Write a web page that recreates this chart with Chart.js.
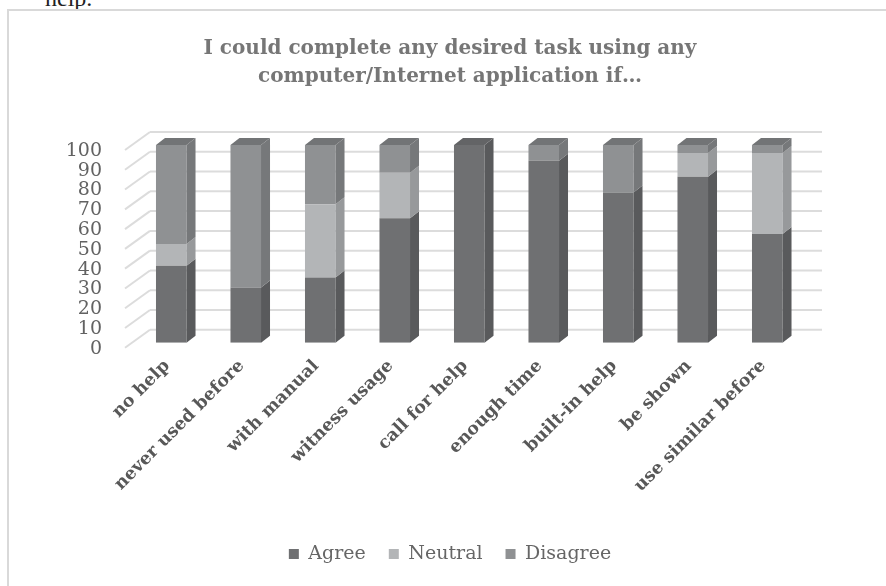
<!DOCTYPE html>
<html>
<head>
<meta charset="utf-8">
<script src="https://cdn.jsdelivr.net/npm/chart.js@4.4.1/dist/chart.umd.min.js"></script>
<style>
  html, body { margin: 0; padding: 0; background: #fff; width: 886px; height: 586px; overflow: hidden; }
  #lead { position: absolute; left: 45px; top: -14px; font: 24px/24px "Liberation Serif", serif; color: #222; }
  #frame { position: absolute; left: 7px; top: 9px; width: 900px; height: 600px; border: 2px solid #d9d9d9; }
  #wrap { position: absolute; left: 0; top: 0; width: 886px; height: 586px; }
</style>
</head>
<body>
<div id="lead">help.</div>
<div id="frame"></div>
<div id="wrap"><canvas id="c" width="886" height="586"></canvas></div>
<script>
// Survey answers (percent) per condition
const categories = ['no help', 'never used before', 'with manual', 'witness usage', 'call for help',
                    'enough time', 'built-in help', 'be shown', 'use similar before'];
const agree    = [39, 28, 33, 63, 100, 92, 76, 84, 55];
const neutral  = [11,  0, 37, 23,   0,  0,  0, 12, 41];
const disagree = [50, 72, 30, 14,   0,  8, 24,  4,  4];
const yTicks = [0, 10, 20, 30, 40, 50, 60, 70, 80, 90, 100];
const seriesNames = ['Agree', 'Neutral', 'Disagree'];
const titleLines = ['I could complete any desired task using any', 'computer/Internet application if\u2026'];

// Face shades: front, side, top
const shades = [
  { front: '#6f7072', side: '#595a5c', top: '#636466' },
  { front: '#b3b5b7', side: '#97999b', top: '#a5a7a9' },
  { front: '#8f9193', side: '#76787a', top: '#727476' }
];

const BAR_DX = 9, BAR_DY = 7;     // depth of each column
const WALL_DX = 16, WALL_DY = 13; // back wall offset

const depthPlugin = {
  id: 'depth3d',
  beforeDatasetsDraw(chart) {
    const { ctx, chartArea: a, scales: { y } } = chart;
    ctx.save();
    ctx.strokeStyle = '#dcdcdc';
    ctx.lineWidth = 2;
    yTicks.forEach(v => {
      const py = y.getPixelForValue(v);
      ctx.beginPath();
      ctx.moveTo(a.left + WALL_DX, py - WALL_DY);
      ctx.lineTo(a.right + 17.5, py - WALL_DY);
      ctx.stroke();
      ctx.beginPath();
      ctx.moveTo(a.left - 9, py + 5);
      ctx.lineTo(a.left + WALL_DX, py - WALL_DY);
      ctx.stroke();
    });
    ctx.restore();
  },
  afterDatasetsDraw(chart) {
    const { ctx } = chart;
    const n = chart.data.labels.length;
    ctx.save();
    for (let j = 0; j < n; j++) {
      let topIdx = -1;
      chart.data.datasets.forEach((ds, i) => {
        const v = ds.data[j];
        if (!v) return;
        topIdx = i;
        const bar = chart.getDatasetMeta(i).data[j];
        const { x, y, base, width } = bar.getProps(['x', 'y', 'base', 'width'], true);
        const r = x + width / 2;
        ctx.fillStyle = shades[i].side;
        ctx.beginPath();
        ctx.moveTo(r, y);
        ctx.lineTo(r + BAR_DX, y - BAR_DY);
        ctx.lineTo(r + BAR_DX, base - BAR_DY);
        ctx.lineTo(r, base);
        ctx.closePath();
        ctx.fill();
      });
      if (topIdx >= 0) {
        const bar = chart.getDatasetMeta(topIdx).data[j];
        const { x, y, width } = bar.getProps(['x', 'y', 'width'], true);
        const l = x - width / 2, r = x + width / 2;
        ctx.fillStyle = shades[topIdx].top;
        ctx.beginPath();
        ctx.moveTo(l, y);
        ctx.lineTo(l + BAR_DX, y - BAR_DY);
        ctx.lineTo(r + BAR_DX, y - BAR_DY);
        ctx.lineTo(r, y);
        ctx.closePath();
        ctx.fill();
      }
    }
    ctx.restore();
  }
};

const seriesValues = [agree, neutral, disagree];

new Chart(document.getElementById('c'), {
  type: 'bar',
  data: {
    labels: categories,
    datasets: seriesNames.map((name, i) => ({
      label: name,
      data: seriesValues[i],
      backgroundColor: shades[i].front,
      borderWidth: 0,
      barPercentage: 0.41,
      categoryPercentage: 1.0
    }))
  },
  options: {
    responsive: false,
    animation: false,
    devicePixelRatio: 1,
    layout: { padding: { top: 20, left: 40, right: 26, bottom: 12.6 } },
    plugins: {
      tooltip: { enabled: false },
      title: {
        display: true,
        text: titleLines,
        color: '#767676',
        font: { family: '"DejaVu Serif", serif', size: 20, weight: 'bold', lineHeight: '28px' },
        padding: { top: 14.5, bottom: 54.5 }
      },
      legend: {
        position: 'bottom',
        labels: {
          color: '#666666',
          boxWidth: 10,
          boxHeight: 10,
          padding: 23,
          font: { family: '"DejaVu Serif", serif', size: 19 }
        }
      }
    },
    scales: {
      x: {
        stacked: true,
        grid: { display: false, drawTicks: false },
        border: { display: false },
        ticks: {
          autoSkip: false,
          minRotation: 45,
          maxRotation: 45,
          padding: 13,
          labelOffset: -4,
          color: '#585858',
          font: { family: '"DejaVu Serif", serif', size: 17.5, weight: 'bold' }
        },
        afterFit(scale) { scale.height = 178.6; }
      },
      y: {
        stacked: true,
        min: 0,
        max: 100,
        grid: { display: false, drawTicks: false },
        border: { display: false },
        afterBuildTicks(scale) { scale.ticks = yTicks.map(v => ({ value: v })); },
        ticks: {
          autoSkip: false,
          padding: 32,
          labelOffset: 6,
          color: '#626262',
          font: { family: '"DejaVu Serif", serif', size: 19, lineHeight: 1 }
        },
        afterFit(scale) { scale.width = 94; }
      },
      // empty right-hand axis that reserves room for the back wall
      yRight: {
        position: 'right',
        display: true,
        grid: { display: false, drawTicks: false },
        border: { display: false },
        ticks: { display: false },
        afterFit(scale) { scale.width = 55.5; }
      }
    }
  },
  plugins: [depthPlugin]
});
</script>
</body>
</html>
